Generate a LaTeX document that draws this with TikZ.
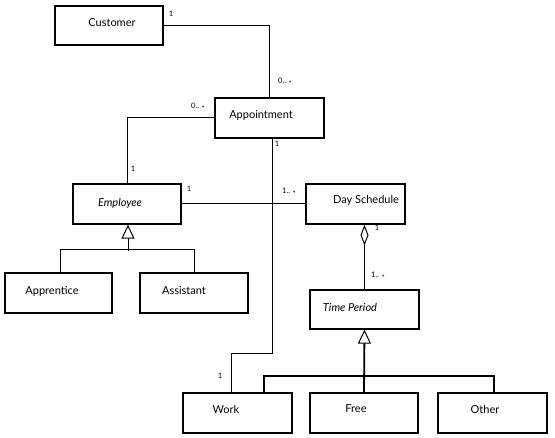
\documentclass[tikz,border=0pt]{standalone}
\usepackage{fontspec}
\setmainfont{Lato}
\usetikzlibrary{arrows.meta}
\newcommand{\mstar}{\raisebox{-0.75ex}{*}}
\begin{document}
\begin{tikzpicture}[x=1pt,y=-1pt,
 cls/.style={draw, line width=1.3pt, minimum width=108pt, minimum height=39pt, inner sep=0pt},
 conn/.style={line width=1pt},
 thick conn/.style={line width=1.8pt},
 mult/.style={font=\fontsize{7.5}{8}\selectfont, inner sep=0pt},
 cname/.style={font=\fontsize{11}{12}\selectfont},
 gen/.style={{Triangle[open,length=14pt,width=13pt,line width=1pt]}-},
 agg/.style={-{Diamond[open,length=21pt,width=8pt,line width=1pt]}}]
\useasboundingbox (0,0) rectangle (555,438);

\node[cls, label={[cname,xshift=3pt,yshift=2.5pt]center:Customer}] (cust) at (109,25.5) {};
\node[cls, minimum width=109pt, minimum height=40pt, label={[cname,xshift=-8.5pt,yshift=3pt]center:Appointment}] (appt) at (269.5,118) {};
\node[cls, minimum height=40pt, label={[cname,xshift=-7pt,yshift=1pt]center:\itshape Employee}] (emp) at (127,204) {};
\node[cls, minimum width=99pt, minimum height=40pt, label={[cname,xshift=10.5pt,yshift=3.5pt]center:Day Schedule}] (ds) at (355.5,204) {};
\node[cls, minimum width=107pt, minimum height=40pt, label={[cname,xshift=-6.5pt,yshift=2pt]center:Apprentice}] (appr) at (58.5,293) {};
\node[cls, minimum height=40pt, label={[cname,xshift=-10pt,yshift=2pt]center:Assistant}] (asst) at (194,293) {};
\node[cls, minimum width=109pt, label={[cname,xshift=-14.5pt,yshift=2.5pt]center:\itshape Time Period}] (tp) at (364.5,309.5) {};
\node[cls, minimum width=109pt, minimum height=40pt, line width=1.8pt, label={[cname,xshift=-11.5pt,yshift=4pt]center:Work}] (work) at (237.5,413) {};
\node[cls, minimum height=40pt, line width=1.8pt, label={[cname,xshift=-8pt,yshift=4pt]center:Free}] (free) at (364,413) {};
\node[cls, minimum width=109pt, minimum height=40pt, line width=1.8pt, label={[cname,xshift=-7.5pt,yshift=4pt]center:Other}] (other) at (492.5,413) {};

% associations
\draw[conn] (cust.east) -| (appt.north);
\draw[conn] (appt.west) -| (emp.north);
\draw[conn] ([xshift=2.5pt]appt.south) -- ++(0,215) -| ([xshift=-6.5pt]work.north);
\draw[conn] (emp.east) -- (ds.west);
\draw[conn, agg] (tp.north) -- (tp.north |- ds.south);

% generalisations
\draw[conn, gen] ([xshift=1pt]emp.south) -- ++(0,26);
\draw[conn] ([xshift=1.5pt]appr.north) -- ++(0,-23) -| (asst.north);
\draw[thick conn, gen] (tp.south) -- (free.north);
\draw[thick conn] ([xshift=26.5pt]work.north) -- ++(0,-16) -| ([xshift=1.5pt]other.north);

% multiplicities
\node[mult] (m1) at (171,14) {1};
\node[mult] (m2) at (285,82) {0.. \mstar};
\node[mult] (m3) at (198,107) {0.. \mstar};
\node[mult] (m4) at (277,144) {1};
\node[mult] (m5) at (133,169) {1};
\node[mult] (m6) at (189,189) {1};
\node[mult] (m7) at (289,192) {1.. \mstar};
\node[mult] (m8) at (377,228) {1};
\node[mult] (m9) at (378,276) {1.. \mstar};
\node[mult] (m10) at (220,376) {1};
\end{tikzpicture}
\end{document}
